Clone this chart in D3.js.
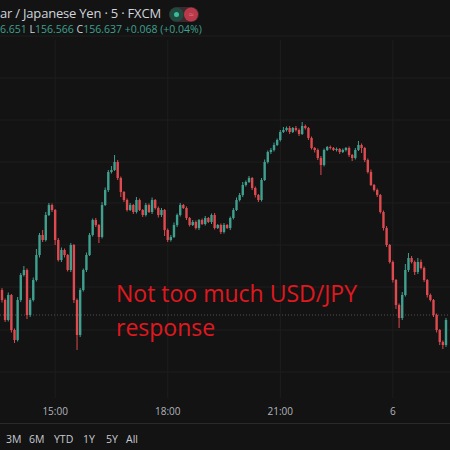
<!DOCTYPE html>
<html>
<head>
<meta charset="utf-8">
<script src="https://cdn.jsdelivr.net/npm/d3@7"></script>
<style>
  html, body { margin: 0; padding: 0; background: #131313; }
  svg { display: block; }
</style>
</head>
<body>
<div id="chart"></div>
<script>
// 5 minute closes, USD/JPY
const closes = [
  156.20, 156.12, 156.22, 156.08, 156.04, 156.20, 156.30, 156.32, 156.14, 156.20,
  156.28, 156.38, 156.46, 156.44, 156.54, 156.58, 156.56, 156.44, 156.36, 156.40,
  156.38, 156.32, 156.42, 156.20, 156.06, 156.24, 156.32, 156.38, 156.46, 156.52,
  156.50, 156.452, 156.58, 156.64, 156.712, 156.72, 156.752, 156.688, 156.632, 156.60,
  156.56, 156.58, 156.552, 156.60, 156.56, 156.54, 156.58, 156.552, 156.60, 156.568,
  156.54, 156.56, 156.48, 156.44, 156.452, 156.50, 156.54, 156.58, 156.568, 156.528,
  156.50, 156.512, 156.488, 156.52, 156.504, 156.528, 156.512, 156.54, 156.488, 156.50,
  156.472, 156.50, 156.488, 156.528, 156.56, 156.60, 156.62, 156.66, 156.672, 156.688,
  156.648, 156.62, 156.60, 156.68, 156.752, 156.792, 156.80, 156.82, 156.84, 156.872,
  156.88, 156.888, 156.872, 156.888, 156.88, 156.864, 156.896, 156.888, 156.848, 156.808,
  156.80, 156.768, 156.74, 156.80, 156.812, 156.808, 156.80, 156.804, 156.792, 156.80,
  156.808, 156.78, 156.768, 156.80, 156.82, 156.808, 156.76, 156.712, 156.66, 156.64,
  156.62, 156.552, 156.488, 156.42, 156.352, 156.28, 156.18, 156.128, 156.22, 156.32,
  156.368, 156.352, 156.312, 156.352, 156.328, 156.28, 156.22, 156.20, 156.14, 156.08,
  156.032, 156.02, 156.12
];
const firstOpen = 156.24;
// extra wick above / below the body, in 0.001
const wickHi = [
  8, 6, 10, 4, 6, 12, 8, 16, 6, 8, 10, 24, 8, 20, 12, 8, 6, 4, 8, 10,
  6, 4, 8, 4, 6, 8, 6, 10, 8, 6, 8, 4, 12, 10, 8, 16, 28, 8, 6, 4,
  6, 8, 4, 12, 6, 4, 8, 6, 10, 4, 6, 8, 4, 6, 8, 10, 6, 8, 4, 6,
  4, 8, 6, 4, 6, 8, 4, 6, 8, 4, 6, 8, 4, 6, 8, 10, 8, 12, 6, 8,
  4, 6, 4, 8, 10, 6, 8, 10, 6, 8, 12, 6, 8, 4, 8, 6, 16, 6, 4, 6,
  4, 6, 8, 6, 4, 6, 4, 6, 4, 6, 4, 6, 4, 8, 16, 6, 4, 6, 10, 4,
  6, 4, 6, 8, 4, 6, 4, 6, 12, 24, 20, 8, 6, 16, 10, 6, 4, 6, 4, 6,
  4, 6, 8
];
const wickLo = [
  10, 8, 6, 10, 12, 6, 8, 6, 16, 8, 6, 6, 10, 8, 6, 4, 8, 20, 6, 8,
  10, 6, 8, 12, 60, 8, 6, 8, 4, 6, 8, 24, 6, 4, 8, 6, 4, 8, 20, 8,
  6, 4, 8, 6, 4, 8, 6, 4, 8, 6, 10, 8, 24, 8, 6, 4, 8, 6, 4, 8,
  6, 4, 6, 8, 4, 6, 4, 8, 6, 4, 8, 6, 4, 8, 6, 4, 6, 8, 6, 4,
  8, 10, 8, 6, 4, 6, 8, 6, 4, 6, 4, 6, 8, 4, 6, 8, 4, 6, 8, 6,
  10, 8, 40, 6, 4, 6, 4, 6, 8, 4, 6, 8, 12, 6, 4, 20, 8, 6, 4, 6,
  8, 6, 10, 8, 6, 10, 16, 40, 8, 6, 8, 6, 12, 8, 6, 8, 10, 6, 8, 10,
  12, 16, 8
];
const startTime = new Date(2024, 6, 5, 13, 35);
const timeTicks = [
  new Date(2024, 6, 5, 15, 0),
  new Date(2024, 6, 5, 18, 0),
  new Date(2024, 6, 5, 21, 0),
  new Date(2024, 6, 6, 0, 0)
];
const gridPrices = [157.256, 157.088, 156.92, 156.752, 156.588, 156.42, 156.252, 156.08, 155.912];
const lastPrice = 156.14;
const ranges = ["3M", "6M", "YTD", "1Y", "5Y", "All"];

const candles = closes.map((c, i) => {
  const o = i === 0 ? firstOpen : closes[i - 1];
  return {
    t: new Date(startTime.getTime() + i * 5 * 60000),
    o: o, c: c,
    h: Math.max(o, c) + wickHi[i] / 1000,
    l: Math.min(o, c) - wickLo[i] / 1000
  };
});

const width = 450, height = 450;
const up = "#3fa08f", down = "#de4a50";

const svg = d3.select("#chart").append("svg")
  .attr("width", width).attr("height", height)
  .style("background", "#131313")
  .style("font-family", "'Open Sans', sans-serif");

const x = d3.scaleTime()
  .domain([startTime, new Date(startTime.getTime() + 142 * 5 * 60000)])
  .range([2, 446]);
const y = d3.scaleLinear().domain([155.9, 157.4]).range([375, 0]);

// grid
svg.append("g").selectAll("line").data(gridPrices).enter().append("line")
  .attr("x1", 0).attr("x2", width)
  .attr("y1", d => y(d)).attr("y2", d => y(d))
  .attr("stroke", "#1e1e1e");
svg.append("g").selectAll("line").data(timeTicks).enter().append("line")
  .attr("x1", d => x(d)).attr("x2", d => x(d))
  .attr("y1", 40).attr("y2", 398)
  .attr("stroke", "#1e1e1e");

// last price dotted line
svg.append("line")
  .attr("x1", 0).attr("x2", width)
  .attr("y1", y(lastPrice)).attr("y2", y(lastPrice))
  .attr("stroke", "#555").attr("stroke-dasharray", "1,2");

// candles
const cw = 2.4;
const g = svg.append("g").selectAll("g").data(candles).enter().append("g");
g.append("line")
  .attr("x1", d => x(d.t)).attr("x2", d => x(d.t))
  .attr("y1", d => y(d.h)).attr("y2", d => y(d.l))
  .attr("stroke", d => d.c >= d.o ? up : down).attr("stroke-width", 1);
g.append("rect")
  .attr("x", d => x(d.t) - cw / 2)
  .attr("width", cw)
  .attr("y", d => y(Math.max(d.o, d.c)))
  .attr("height", d => Math.max(1, Math.abs(y(d.o) - y(d.c))))
  .attr("fill", d => d.c >= d.o ? up : down);

// annotation
svg.append("text").attr("x", 116).attr("y", 302)
  .attr("fill", "#e0181f").attr("font-size", 23).text("Not too much USD/JPY");
svg.append("text").attr("x", 116).attr("y", 336)
  .attr("fill", "#e0181f").attr("font-size", 23).text("response");

// header
svg.append("text").attr("x", 0).attr("y", 18)
  .attr("fill", "#d1d4dc").attr("font-size", 13).attr("letter-spacing", -0.2)
  .text("ar / Japanese Yen · 5 · FXCM");
svg.append("rect").attr("x", 169).attr("y", 7).attr("width", 30).attr("height", 15)
  .attr("rx", 7.5).attr("fill", "#3a2a2e");
svg.append("circle").attr("cx", 176.5).attr("cy", 14.5).attr("r", 7).attr("fill", "#1f4a40");
svg.append("circle").attr("cx", 176.5).attr("cy", 14.5).attr("r", 2.5).attr("fill", "#3dbb9a");
svg.append("circle").attr("cx", 191).attr("cy", 14.5).attr("r", 7).attr("fill", "#b83a4a");
svg.append("text").attr("x", 191).attr("y", 18).attr("text-anchor", "middle")
  .attr("fill", "#e07080").attr("font-size", 9).text("≈");
const ohlc = svg.append("text").attr("x", 0).attr("y", 33).attr("font-size", 10.5);
[["6.651 ", up], ["L", "#d1d4dc"], ["156.566 ", up], ["C", "#d1d4dc"],
 ["156.637 ", up], ["+0.068 (+0.04%)", up]].forEach(([t, c]) =>
  ohlc.append("tspan").attr("fill", c).text(t));

// time axis
svg.append("g").selectAll("text").data(timeTicks).enter().append("text")
  .attr("x", d => x(d)).attr("y", 415)
  .attr("text-anchor", "middle").attr("fill", "#b2b5be").attr("font-size", 10)
  .text(d => d.getHours() === 0 ? String(d.getDate()) : d3.timeFormat("%H:%M")(d));
svg.append("line").attr("x1", 0).attr("x2", width).attr("y1", 423.5).attr("y2", 423.5)
  .attr("stroke", "#2a2a2a");

// range buttons
const bx = [6, 29, 54, 83, 106, 126];
svg.append("g").selectAll("text").data(ranges).enter().append("text")
  .attr("x", (d, i) => bx[i]).attr("y", 443)
  .attr("fill", "#c8cbd2").attr("font-size", 10.5).text(d => d);
</script>
</body>
</html>
